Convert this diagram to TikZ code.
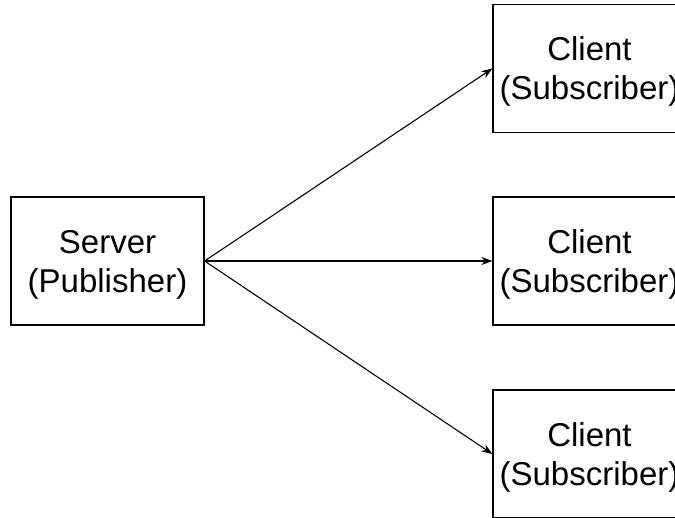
\documentclass[tikz,border=0pt]{standalone}
\usepackage{fontspec}
\setmainfont{Liberation Sans}
\usetikzlibrary{arrows.meta}
\begin{document}
\begin{tikzpicture}[x=1pt, y=-1pt,
    box/.style={draw, line width=1.2pt, minimum width=193pt, minimum height=128pt, align=center, inner sep=0pt, text depth=0pt, font=\fontsize{33}{39}\selectfont},
    link/.style={-{Stealth[length=11pt, width=8pt]}, line width=1.1pt}]
\useasboundingbox (0,0) rectangle (675,517);
\clip (0,0) rectangle (675,517);
\node[box] (S)  at (107.5,261) {Server\\(Publisher)};
\node[box] (C1) at (589.5,68.5) {Client\\(Subscriber)};
\node[box] (C2) at (589.5,261) {Client\\(Subscriber)};
\node[box] (C3) at (589.5,454) {Client\\(Subscriber)};

\draw[link] (S.east) -- (C1.west);
\draw[link] (S.east) -- (C2.west);
\draw[link] (S.east) -- (C3.west);
\end{tikzpicture}
\end{document}
